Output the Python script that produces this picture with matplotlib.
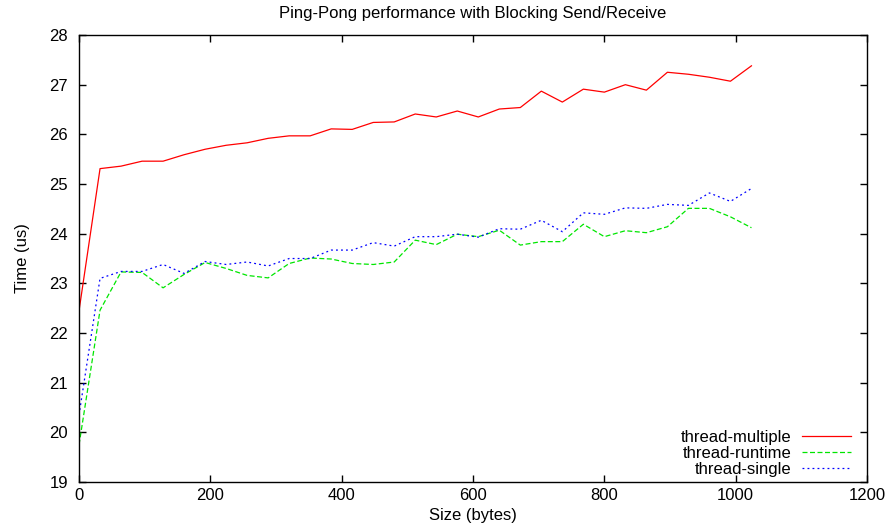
import matplotlib
matplotlib.use('Agg')
import matplotlib.pyplot as plt

plt.rcParams['font.family'] = ['Liberation Sans', 'DejaVu Sans']

# message sizes (bytes)
sizes = [0, 32, 64, 96, 128, 160, 192, 224, 256, 288, 320, 352, 384, 416, 448, 480,
         512, 544, 576, 608, 640, 672, 704, 736, 768, 800, 832, 864, 896, 928, 960, 992, 1024]

t_multiple = [22.45, 25.31, 25.36, 25.46, 25.46, 25.59, 25.70, 25.78, 25.83, 25.92, 25.97,
              25.97, 26.11, 26.10, 26.24, 26.25, 26.41, 26.35, 26.47, 26.35, 26.51, 26.54,
              26.87, 26.65, 26.91, 26.85, 27.00, 26.89, 27.25, 27.21, 27.15, 27.07, 27.38]

t_runtime = [19.75, 22.46, 23.23, 23.22, 22.91, 23.18, 23.42, 23.30, 23.16, 23.11, 23.40,
             23.51, 23.49, 23.40, 23.38, 23.43, 23.87, 23.78, 23.99, 23.94, 24.07, 23.77,
             23.84, 23.84, 24.19, 23.94, 24.06, 24.02, 24.14, 24.51, 24.51, 24.34, 24.12]

t_single = [20.35, 23.10, 23.24, 23.24, 23.38, 23.20, 23.44, 23.38, 23.43, 23.35, 23.50,
            23.50, 23.67, 23.67, 23.82, 23.75, 23.94, 23.94, 23.99, 23.93, 24.10, 24.09,
            24.27, 24.04, 24.42, 24.39, 24.52, 24.51, 24.59, 24.57, 24.82, 24.65, 24.91]

fs = 12

fig = plt.figure(figsize=(8.92, 5.29), dpi=100)
ax = fig.add_axes([0.0886, 0.0888, 0.8834, 0.845])

ax.plot(sizes, t_multiple, color='#ff0000', lw=0.9, label='thread-multiple')
ax.plot(sizes, t_runtime, color='#00e600', lw=0.9, dashes=(4, 2), label='thread-runtime')
ax.plot(sizes, t_single, color='#0000ff', lw=0.9, dashes=(1.5, 2.5), label='thread-single')

ax.set_xlim(0, 1200)
ax.set_ylim(19, 28)
ax.set_xticks(range(0, 1201, 200))
ax.set_yticks(range(19, 29))
ax.tick_params(direction='in', top=True, right=True, length=5, width=1, labelsize=fs)
ax.tick_params(axis='y', pad=8)
ax.tick_params(axis='x', pad=4)
for s in ax.spines.values():
    s.set_linewidth(1)

ax.set_title('Ping-Pong performance with Blocking Send/Receive', fontsize=fs, pad=12)
ax.set_xlabel('Size (bytes)', fontsize=fs, labelpad=4)
ax.set_ylabel('Time (us)', fontsize=fs, labelpad=14)

ax.legend(loc='lower right', bbox_to_anchor=(0.98, 0.012), frameon=False, markerfirst=False,
          fontsize=fs, handlelength=2.95, handletextpad=0.65, labelspacing=0.05, borderaxespad=0,
          borderpad=0)

fig.savefig('out.png', dpi=100)
